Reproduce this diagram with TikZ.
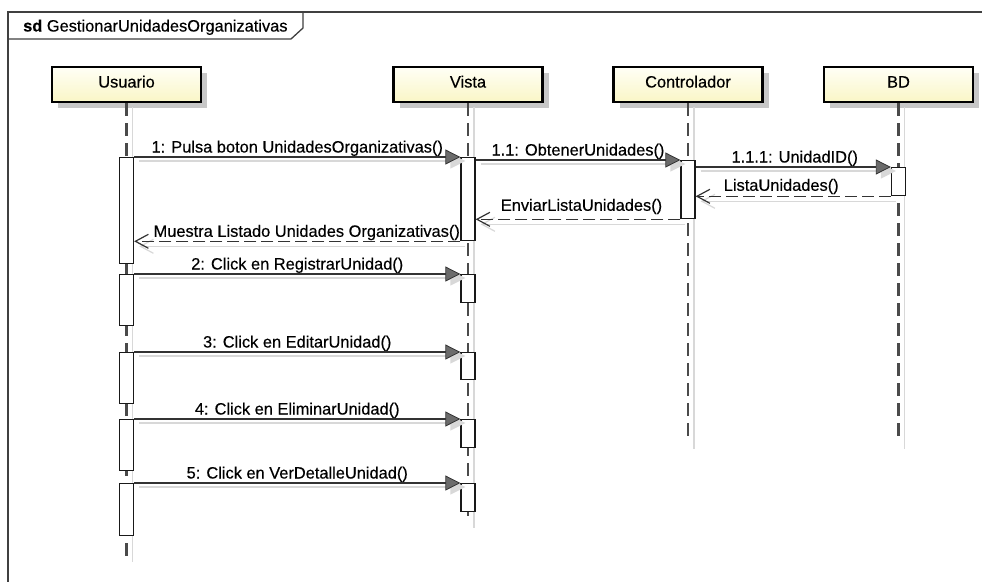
\documentclass[tikz,border=0pt]{standalone}
\usepackage{fontspec}
\setmainfont{Liberation Sans}[FakeBold=0.35]
\usetikzlibrary{arrows.meta,shadows}
\definecolor{headtop}{HTML}{FFFFF6}
\definecolor{headbot}{HTML}{FAF6C6}
\definecolor{lineclr}{HTML}{333333}
\definecolor{lifeclr}{HTML}{4A4A4A}
\definecolor{shadowclr}{HTML}{D8D8D8}
\tikzset{
  every node/.style={font=\fontsize{16.4}{19}\selectfont},
  head/.style={draw=black, line width=2.3pt, minimum width=149pt, minimum height=35pt,
    inner sep=0pt, text height=12pt, text depth=6pt,
    top color=headtop, bottom color=headbot,
    drop shadow={shadow xshift=6pt, shadow yshift=-6pt, fill=black!22, opacity=1}},
  lifeline/.style={draw=lifeclr, line width=2.1pt, dash pattern=on 13pt off 7pt},
  lifeshadow/.style={draw=shadowclr, line width=1.6pt, transform canvas={xshift=6pt}},
  bar/.style={draw=black!90, line width=1.3pt, fill=white, minimum width=14pt, inner sep=0pt, anchor=north},
  syncmsg/.style={draw=lineclr, line width=1.4pt,
    -{Triangle[length=15pt, width=15pt, fill=black!58, line width=0.8pt]}},
  retmsg/.style={draw=lineclr, line width=1.4pt, dash pattern=on 12pt off 5pt,
    -{Straight Barb[length=13pt, width=14pt, line width=1.2pt]}},
  syncshadow/.style={draw=shadowclr, line width=1.4pt, transform canvas={xshift=5pt, yshift=-4pt},
    -{Triangle[length=15pt, width=15pt, fill=shadowclr]}},
  retshadow/.style={draw=shadowclr, line width=1.4pt, transform canvas={xshift=5pt, yshift=-5pt},
    -{Straight Barb[length=13pt, width=14pt, line width=1.2pt]}},
  msglabel/.style={anchor=base, inner sep=0pt, yshift=4.5pt, text=black},
}
\begin{document}
\begin{tikzpicture}[x=1pt, y=-1pt]
  \useasboundingbox[fill=white] (0,0) rectangle (982,582);

  % diagram frame and its name tab
  \draw[draw=black!75, line width=1.3pt] (982,12) -- (8,12) -- (8,582);
  \draw[draw=black!75, line width=1.3pt] (8,39) -- (291,39) -- (303,28) -- (303,12);
  \node[anchor=base west, inner sep=0pt] (title) at (23,31.5) {\textbf{sd} GestionarUnidadesOrganizativas};

  % participants
  \node[head] (usr) at (126.5,84.5) {Usuario};
  \node[head] (vis) at (468,84.5) {Vista};
  \node[head] (ctl) at (688,84.5) {Controlador};
  \node[head] (bd)  at (898.5,84.5) {BD};

  \coordinate (usrend) at (126.5,556);
  \coordinate (visend) at (468,522);
  \coordinate (ctlend) at (688,443);
  \coordinate (bdend)  at (898.5,443);

  % lifelines
  \foreach \h/\e in {usr/usrend, vis/visend, ctl/ctlend, bd/bdend}{
    \draw[lifeshadow] ([yshift=-4pt]\h.south) -- ([yshift=-6pt]\e);
    \draw[lifeline] (\h.south) -- (\e);
  }

  % activation bars
  \node[bar, minimum height=106pt] (u1) at (126.5,157) {};
  \node[bar, minimum height=51pt]  (u2) at (126.5,274) {};
  \node[bar, minimum height=51pt]  (u3) at (126.5,352) {};
  \node[bar, minimum height=51pt]  (u4) at (126.5,419) {};
  \node[bar, minimum height=52pt]  (u5) at (126.5,483) {};
  \node[bar, minimum height=83pt]  (v1) at (468,157) {};
  \node[bar, minimum height=28pt]  (v2) at (468,274) {};
  \node[bar, minimum height=27pt]  (v3) at (468,352) {};
  \node[bar, minimum height=28pt]  (v4) at (468,419) {};
  \node[bar, minimum height=28pt]  (v5) at (468,483) {};
  \node[bar, minimum height=58pt]  (c1) at (688,160) {};
  \node[bar, minimum height=28pt]  (b1) at (898.5,167) {};

  % message shadows
  \draw[syncshadow] (u1.north east) -- (v1.north west);
  \draw[syncshadow] (v1.east |- c1.north) -- (c1.north west);
  \draw[syncshadow] (c1.east |- b1.north) -- (b1.north west);
  \draw[retshadow] (b1.south west) -- (c1.east |- b1.south);
  \draw[retshadow] (c1.south west) -- (v1.east |- c1.south);
  \draw[retshadow] (v1.south west) -- (u1.east |- v1.south);
  \draw[syncshadow] (u2.north east) -- (v2.north west);
  \draw[syncshadow] (u3.north east) -- (v3.north west);
  \draw[syncshadow] (u4.north east) -- (v4.north west);
  \draw[syncshadow] (u5.north east) -- (v5.north west);

  % messages
  \draw[syncmsg] (u1.north east) -- (v1.north west)
    node[msglabel, midway] {1: Pulsa boton UnidadesOrganizativas()};
  \draw[syncmsg] (v1.east |- c1.north) -- (c1.north west)
    node[msglabel, midway] {1.1: ObtenerUnidades()};
  \draw[syncmsg] (c1.east |- b1.north) -- (b1.north west)
    node[msglabel, midway, xshift=1.5pt] {1.1.1: UnidadID()};
  \draw[retmsg] (b1.south west) -- (c1.east |- b1.south)
    node[msglabel, midway, xshift=-12pt, yshift=1pt] {ListaUnidades()};
  \draw[retmsg] (c1.south west) -- (v1.east |- c1.south)
    node[msglabel, midway, xshift=3.5pt, yshift=4pt] {EnviarListaUnidades()};
  \draw[retmsg] (v1.south west) -- (u1.east |- v1.south)
    node[msglabel, midway, xshift=9.5pt] {Muestra Listado Unidades Organizativas()};
  \draw[syncmsg] (u2.north east) -- (v2.north west)
    node[msglabel, midway] {2: Click en RegistrarUnidad()};
  \draw[syncmsg] (u3.north east) -- (v3.north west)
    node[msglabel, midway] {3: Click en EditarUnidad()};
  \draw[syncmsg] (u4.north east) -- (v4.north west)
    node[msglabel, midway] {4: Click en EliminarUnidad()};
  \draw[syncmsg] (u5.north east) -- (v5.north west)
    node[msglabel, midway] {5: Click en VerDetalleUnidad()};
\end{tikzpicture}
\end{document}
